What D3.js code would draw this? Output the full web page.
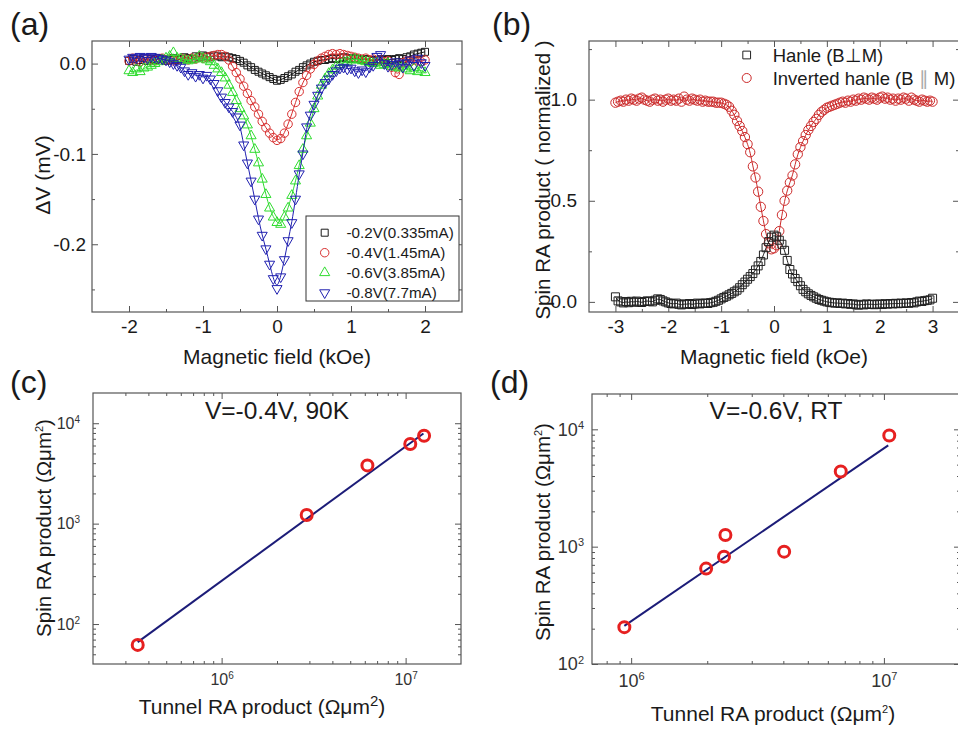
<!DOCTYPE html>
<html><head><meta charset="utf-8">
<script src="https://cdn.jsdelivr.net/npm/d3@7"></script>
<style>
body{margin:0;background:#fff}
svg{display:block;background:#fff}
</style>
</head><body>
<svg id="fig" width="958" height="731"></svg>
<script>
// ---------------- DATA ----------------
// Panel (a): Hanle curves, ΔV (mV) vs magnetic field (kOe)
const fieldA = [-2,-1.95,-1.9,-1.85,-1.8,-1.75,-1.7,-1.65,-1.6,-1.55,
  -1.5,-1.45,-1.4,-1.35,-1.3,-1.25,-1.2,-1.15,-1.1,-1.05,
  -1,-0.95,-0.9,-0.85,-0.8,-0.75,-0.7,-0.65,-0.6,-0.55,
  -0.5,-0.45,-0.4,-0.35,-0.3,-0.25,-0.2,-0.15,-0.1,-0.05,
  0,0.05,0.1,0.15,0.2,0.25,0.3,0.35,0.4,0.45,
  0.5,0.55,0.6,0.65,0.7,0.75,0.8,0.85,0.9,0.95,
  1,1.05,1.1,1.15,1.2,1.25,1.3,1.35,1.4,1.45,
  1.5,1.55,1.6,1.65,1.7,1.75,1.8,1.85,1.9,1.95,
  2];
const dvM02 = [0.003,0.005,0.002,0.004,0.006,0.003,0.005,0.004,0.006,0.005,
  0.003,0.004,0.006,0.004,0.005,0.007,0.006,0.005,0.008,0.007,
  0.009,0.008,0.007,0.009,0.008,0.007,0.008,0.007,0.006,0.005,
  0.003,0.001,-0.002,-0.004,-0.007,-0.009,-0.011,-0.013,-0.015,-0.017,
  -0.019,-0.018,-0.016,-0.014,-0.012,-0.009,-0.007,-0.004,-0.002,0.000,
  0.002,0.003,0.004,0.004,0.005,0.006,0.005,0.006,0.007,0.006,
  0.005,0.006,0.005,0.004,0.005,0.004,0.003,0.004,0.005,0.004,
  0.005,0.004,0.005,0.006,0.005,0.007,0.008,0.010,0.011,0.012,
  0.013];
const dvM04 = [0.003,0.006,0.004,0.002,0.005,0.006,0.004,0.003,0.005,0.006,
  0.004,0.005,0.003,0.004,0.006,0.005,0.004,0.006,0.005,0.007,
  0.006,0.007,0.008,0.009,0.010,0.010,0.008,0.004,-0.003,-0.010,
  -0.017,-0.025,-0.033,-0.041,-0.048,-0.056,-0.064,-0.071,-0.077,-0.082,
  -0.085,-0.083,-0.077,-0.067,-0.056,-0.043,-0.031,-0.021,-0.013,-0.006,
  -0.001,0.003,0.006,0.008,0.010,0.011,0.010,0.011,0.010,0.009,
  0.008,0.007,0.006,0.005,0.006,0.004,0.005,0.003,0.004,0.002,
  0.003,-0.004,-0.010,-0.012,0.001,0.003,0.002,0.004,0.003,0.002,
  0.004];
const dvM06 = [-0.008,-0.010,-0.006,-0.009,-0.005,-0.004,-0.002,0.000,0.002,0.004,
  0.006,0.008,0.012,0.006,0.005,0.004,0.003,0.004,0.005,0.008,
  0.006,0.004,0.002,-0.002,-0.006,-0.010,-0.016,-0.024,-0.032,-0.041,
  -0.050,-0.058,-0.068,-0.080,-0.095,-0.110,-0.128,-0.145,-0.160,-0.170,
  -0.176,-0.178,-0.170,-0.160,-0.146,-0.130,-0.113,-0.095,-0.080,-0.066,
  -0.050,-0.036,-0.024,-0.017,-0.011,-0.007,-0.003,-0.001,0.001,0.002,
  0.004,0.005,0.004,0.003,0.002,0.001,0.000,0.001,-0.002,-0.001,
  0.000,-0.003,-0.004,-0.005,-0.003,-0.006,-0.008,-0.005,-0.009,-0.007,
  -0.010];
const dvM08 = [0.005,0.007,0.006,0.008,0.007,0.006,0.008,0.007,0.006,0.005,
  0.004,0.002,0.000,-0.002,-0.004,-0.008,-0.012,-0.010,-0.014,-0.012,
  -0.016,-0.013,-0.017,-0.022,-0.030,-0.037,-0.043,-0.048,-0.053,-0.059,
  -0.068,-0.090,-0.110,-0.130,-0.150,-0.172,-0.190,-0.205,-0.222,-0.238,
  -0.249,-0.236,-0.217,-0.196,-0.176,-0.150,-0.122,-0.100,-0.070,-0.057,
  -0.045,-0.035,-0.027,-0.021,-0.017,-0.012,-0.008,-0.005,-0.004,-0.006,
  -0.005,-0.008,-0.010,-0.007,-0.009,-0.004,-0.002,0.008,0.010,0.000,
  -0.003,-0.001,0.002,0.000,-0.004,0.001,0.004,-0.002,0.006,0.001,
  -0.002];
const legendA = ["-0.2V(0.335mA)","-0.4V(1.45mA)","-0.6V(3.85mA)","-0.8V(7.7mA)"];
const xTicksA = [-2,-1,0,1,2], xMinorA = [-1.5,-0.5,0.5,1.5];
const yTicksA = [0,-0.1,-0.2], yMinorA = [-0.05,-0.15,-0.25];

// Panel (b): normalized spin RA product vs field
const fieldB = [-3,-2.95,-2.9,-2.85,-2.8,-2.75,-2.7,-2.65,-2.6,-2.55,
  -2.5,-2.45,-2.4,-2.35,-2.3,-2.25,-2.2,-2.15,-2.1,-2.05,
  -2,-1.95,-1.9,-1.85,-1.8,-1.75,-1.7,-1.65,-1.6,-1.55,
  -1.5,-1.45,-1.4,-1.35,-1.3,-1.25,-1.2,-1.15,-1.1,-1.05,
  -1,-0.95,-0.9,-0.85,-0.8,-0.75,-0.7,-0.65,-0.6,-0.55,
  -0.5,-0.45,-0.4,-0.35,-0.3,-0.25,-0.2,-0.15,-0.1,-0.05,
  0,0.05,0.1,0.15,0.2,0.25,0.3,0.35,0.4,0.45,
  0.5,0.55,0.6,0.65,0.7,0.75,0.8,0.85,0.9,0.95,
  1,1.05,1.1,1.15,1.2,1.25,1.3,1.35,1.4,1.45,
  1.5,1.55,1.6,1.65,1.7,1.75,1.8,1.85,1.9,1.95,
  2,2.05,2.1,2.15,2.2,2.25,2.3,2.35,2.4,2.45,
  2.5,2.55,2.6,2.65,2.7,2.75,2.8,2.85,2.9,2.95,
  3];
const hanle = [0.025,0.005,0.000,-0.005,0.002,-0.004,0.003,-0.002,0.004,0.000,
  -0.003,0.002,0.005,0.003,0.000,0.008,0.015,0.012,0.005,0.000,
  -0.005,-0.008,-0.010,-0.006,-0.012,-0.015,-0.010,-0.012,-0.008,-0.013,
  -0.010,-0.006,-0.010,-0.008,-0.005,-0.008,-0.004,-0.002,0.003,0.008,
  0.015,0.022,0.028,0.035,0.042,0.050,0.058,0.070,0.085,0.098,
  0.112,0.125,0.140,0.158,0.178,0.200,0.232,0.268,0.298,0.320,
  0.330,0.322,0.305,0.285,0.255,0.205,0.160,0.138,0.116,0.100,
  0.080,0.062,0.050,0.040,0.032,0.025,0.018,0.012,0.008,0.004,
  0.000,-0.002,-0.004,-0.006,-0.005,-0.008,-0.006,-0.010,-0.008,-0.012,
  -0.010,-0.014,-0.016,-0.012,-0.015,-0.010,-0.013,-0.011,-0.014,-0.012,
  -0.010,-0.013,-0.009,-0.011,-0.008,-0.010,-0.007,-0.009,-0.006,-0.008,
  -0.005,-0.007,-0.003,-0.005,0.000,0.004,0.002,0.006,0.008,0.010,
  0.018];
const invHanle = [0.985,0.990,0.995,0.990,1.000,0.995,1.005,1.000,0.995,1.005,
  1.010,1.000,0.995,0.990,1.000,1.005,0.995,1.000,0.990,1.000,
  1.005,0.995,1.000,0.995,1.005,0.990,1.015,1.000,0.995,1.005,
  1.000,0.995,1.000,0.990,0.995,0.990,0.990,0.990,0.985,0.985,
  0.985,0.980,0.975,0.965,0.945,0.925,0.895,0.870,0.845,0.815,
  0.780,0.740,0.670,0.615,0.545,0.470,0.400,0.335,0.290,0.260,
  0.265,0.280,0.350,0.430,0.500,0.550,0.590,0.625,0.680,0.730,
  0.765,0.795,0.825,0.850,0.870,0.890,0.905,0.925,0.940,0.950,
  0.960,0.965,0.970,0.975,0.980,0.985,0.990,0.985,0.995,0.990,
  1.000,0.995,1.005,1.000,1.010,1.005,1.000,1.010,1.005,1.000,
  1.010,1.015,1.005,1.010,1.000,1.005,0.995,1.005,1.000,1.010,
  1.005,0.995,1.010,1.000,0.995,0.990,1.000,0.995,0.990,0.995,
  0.990];
const xTicksB = [-3,-2,-1,0,1,2,3], xMinorB = [-2.5,-1.5,-0.5,0.5,1.5,2.5];
const yTicksB = [0,0.5,1.0], yMinorB = [0.25,0.75,1.25];

// Panel (c): V=-0.4V, 90K
const tunnelC = [3.5e5, 2.9e6, 6.2e6, 1.06e7, 1.26e7];
const spinC   = [62, 1220, 3800, 6200, 7500];
const fitTunnelC = [3.5e5, 1.25e7];
const fitSpinC   = [66, 7900];
// Panel (d): V=-0.6V, RT
const tunnelD = [9.4e5, 1.98e6, 2.33e6, 2.36e6, 4.03e6, 6.75e6, 1.05e7];
const spinD   = [206, 650, 822, 1257, 907, 4370, 8850];
const fitTunnelD = [9.4e5, 1.04e7];
const fitSpinD   = [211, 7300];
const xTicksC = [1e6, 1e7], xMinorC = [3e5,4e5,5e5,6e5,7e5,8e5,9e5,2e6,3e6,4e6,5e6,6e6,7e6,8e6,9e6];
const yTicksC = [1e2, 1e3, 1e4], yMinorC = [50,60,70,80,90,200,300,400,500,600,700,800,900,2000,3000,4000,5000,6000,7000,8000,9000];
const xTicksD = [1e6, 1e7], xMinorD = [8e5,9e5,2e6,3e6,4e6,5e6,6e6,7e6,8e6,9e6];
const yTicksD = [1e2, 1e3, 1e4], yMinorD = [200,300,400,500,600,700,800,900,2000,3000,4000,5000,6000,7000,8000,9000];

// ---------------- DRAWING ----------------
const FONT = '"Liberation Sans", Arial, Helvetica, sans-serif';
const TXT = "#1a1a1a", AXC = "#555";
const svg = d3.select("#fig");

function axes(x, y, o) {
  const g = svg.append("g");
  const [x0, x1] = x.range(), [y1, y0] = y.range();
  function ax(gen, tr, vals, size, fmt, pad, fs) {
    const s = g.append("g").attr("transform", tr)
      .call(gen.tickValues(vals).tickSize(size).tickSizeOuter(0).tickPadding(pad || 0).tickFormat(fmt || (() => "")));
    s.select(".domain").remove();
    s.selectAll(".tick line").attr("stroke", AXC).attr("stroke-width", 1);
    s.selectAll(".tick text").attr("font-family", FONT).attr("font-size", fs || 19).attr("fill", TXT);
    return s;
  }
  const bx = ax(d3.axisBottom(x), `translate(0,${y1})`, o.xMajor, -6, o.xFmt, o.xPad, o.fs);
  ax(d3.axisBottom(x), `translate(0,${y1})`, o.xMinor, -3);
  ax(d3.axisTop(x), `translate(0,${y0})`, o.xMajor, -6);
  ax(d3.axisTop(x), `translate(0,${y0})`, o.xMinor, -3);
  const ly = ax(d3.axisLeft(y), `translate(${x0},0)`, o.yMajor, -6, o.yFmt, o.yPad, o.fs);
  ax(d3.axisLeft(y), `translate(${x0},0)`, o.yMinor, -3);
  ax(d3.axisRight(y), `translate(${x1},0)`, o.yMajor, -6);
  ax(d3.axisRight(y), `translate(${x1},0)`, o.yMinor, -3);
  g.append("rect").attr("x", x0).attr("y", y0).attr("width", x1 - x0).attr("height", y1 - y0)
    .attr("fill", "none").attr("stroke", AXC).attr("stroke-width", 1.2);
  if (o.log) {
    [bx, ly].forEach(s => s.selectAll(".tick text").each(function(d) {
      const t = d3.select(this); t.text(null).attr("fill", "#333");
      t.append("tspan").text("10");
      t.append("tspan").attr("dy", "-0.6em").attr("font-size", o.supFs || 10).text(Math.round(Math.log10(d)));
    }));
  }
  return g;
}

function text(x, y, str, fs, anchor, rot) {
  const t = svg.append("text").attr("font-family", FONT).attr("font-size", fs).attr("fill", TXT)
    .attr("text-anchor", anchor || "middle");
  if (rot) t.attr("transform", `translate(${x},${y}) rotate(-90)`);
  else t.attr("x", x).attr("y", y);
  if (str !== null) t.text(str);
  return t;
}

function markers(g, xs, ys, x, y, type, size, color, sw) {
  const sym = d3.symbol().type(type === "tridown" ? d3.symbolTriangle : type).size(size);
  g.selectAll(null).data(xs.map((v, i) => [v, ys[i]])).join("path")
    .attr("d", sym)
    .attr("transform", d => `translate(${x(d[0])},${y(d[1])})` + (type === "tridown" ? " rotate(180)" : ""))
    .attr("fill", "none").attr("stroke", color).attr("stroke-width", sw || 1);
}
function fitLine(g, xs, ys, x, y, color, w, curve) {
  g.append("path").datum(xs.map((v, i) => [v, ys[i]]))
    .attr("d", d3.line().x(d => x(d[0])).y(d => y(d[1])).curve(curve || d3.curveLinear))
    .attr("fill", "none").attr("stroke", color).attr("stroke-width", w);
}

// ----- Panel (a)
{
  const x = d3.scaleLinear().domain([-2.5, 2.5]).range([92, 462]);
  const y = d3.scaleLinear().domain([-0.275, 0.025]).range([312, 41]);
  axes(x, y, {xMajor: xTicksA, xMinor: xMinorA, yMajor: yTicksA, yMinor: yMinorA,
    xFmt: d => String(d), yFmt: d => d.toFixed(1), xPad: 8, yPad: 6, fs: 19});
  const g = svg.append("g");
  const series = [
    {v: dvM02, c: "#1a1a1a", t: d3.symbolSquare, s: 49},
    {v: dvM04, c: "#d83030", t: d3.symbolCircle, s: 56},
    {v: dvM06, c: "#2fdc2f", t: d3.symbolTriangle, s: 44},
    {v: dvM08, c: "#2020b0", t: "tridown", s: 44}
  ];
  series.forEach(sr => {
    markers(g, fieldA, sr.v, x, y, sr.t, sr.s, sr.c, 1);
    fitLine(g, fieldA, sr.v, x, y, sr.c, 1, d3.curveBasis);
  });
  // legend
  svg.append("rect").attr("x", 306).attr("y", 216).attr("width", 153).attr("height", 85)
    .attr("fill", "#fff").attr("stroke", "#333").attr("stroke-width", 1);
  const lg = svg.append("g");
  series.forEach((sr, i) => {
    const ly = 232.7 + i * 20;
    const sym = d3.symbol().type(sr.t === "tridown" ? d3.symbolTriangle : sr.t).size(sr.s);
    lg.append("path").attr("d", sym)
      .attr("transform", `translate(324.7,${ly})` + (sr.t === "tridown" ? " rotate(180)" : ""))
      .attr("fill", "none").attr("stroke", sr.c).attr("stroke-width", 1);
    text(346.5, ly + 5.5, legendA[i], 15.2, "start");
  });
  text(10, 35, "(a)", 32, "start");
  text(50, 175, "ΔV (mV)", 21, "middle", true);
  text(277, 364, "Magnetic field (kOe)", 21);
}

// ----- Panel (b)
{
  const x = d3.scaleLinear().domain([-3.5, 3.5]).range([589, 959]);
  const y = d3.scaleLinear().domain([-0.05, 1.29]).range([312, 41]);
  axes(x, y, {xMajor: xTicksB, xMinor: xMinorB, yMajor: yTicksB, yMinor: yMinorB,
    xFmt: d => String(d), yFmt: d => d.toFixed(1), xPad: 8, yPad: 12, fs: 19});
  const g = svg.append("g");
  markers(g, fieldB, invHanle, x, y, d3.symbolCircle, 68, "#cc2a2a", 1);
  fitLine(g, fieldB, invHanle, x, y, "#cc2a2a", 1, d3.curveBasis);
  markers(g, fieldB, hanle, x, y, d3.symbolSquare, 64, "#222", 1);
  fitLine(g, fieldB, hanle, x, y, "#222", 1, d3.curveBasis);
  // legend
  svg.append("path").attr("d", d3.symbol().type(d3.symbolSquare).size(60)).attr("transform", "translate(746.7,55)")
    .attr("fill", "none").attr("stroke", "#222");
  svg.append("path").attr("d", d3.symbol().type(d3.symbolCircle).size(64)).attr("transform", "translate(746.7,78)")
    .attr("fill", "none").attr("stroke", "#cc2a2a");
  text(772.7, 62, "Hanle (B⊥M)", 18.5, "start");
  const t2 = text(772.7, 85, null, 18.5, "start");
  t2.append("tspan").text("Inverted hanle (B ");
  t2.append("tspan").attr("fill", "#aaa").text("∥");
  t2.append("tspan").text(" M)");
  text(492, 35, "(b)", 32, "start");
  text(550, 180, "Spin RA product ( normalized )", 20.5, "middle", true);
  text(774, 364, "Magnetic field (kOe)", 21);
}

function raLabel(x, y, rot, supSize, fs) {
  const t = text(x, y, null, fs, "middle", rot);
  t.append("tspan").text(rot ? "Spin RA product (Ωμm" : "Tunnel RA product (Ωμm");
  t.append("tspan").attr("dy", -8).attr("font-size", supSize).text("2");
  t.append("tspan").attr("dy", 8).text(")");
}

// ----- Panel (c)
{
  const x = d3.scaleLog().domain([2e5, 2e7]).range([93, 461]);
  const y = d3.scaleLog().domain([40, 2e4]).range([664, 393]);
  axes(x, y, {xMajor: xTicksC, xMinor: xMinorC, yMajor: yTicksC, yMinor: yMinorC,
    xFmt: d => d, yFmt: d => d, xPad: 10, yPad: 13, fs: 16, supFs: 10, log: true});
  const g = svg.append("g");
  fitLine(g, fitTunnelC, fitSpinC, x, y, "#1c1c78", 2);
  markers(g, tunnelC, spinC, x, y, d3.symbolCircle, 95, "#e62020", 3);
  text(277, 419, "V=-0.4V, 90K", 24.5);
  text(10, 393, "(c)", 32, "start");
  raLabel(51, 528, true, 11, 20.5);
  raLabel(262, 714, false, 15, 21);
}

// ----- Panel (d)
{
  const x = d3.scaleLog().domain([7e5, 2e7]).range([592, 960]);
  const y = d3.scaleLog().domain([100, 2e4]).range([664, 394]);
  axes(x, y, {xMajor: xTicksD, xMinor: xMinorD, yMajor: yTicksD, yMinor: yMinorD,
    xFmt: d => d, yFmt: d => d, xPad: 10, yPad: 8, fs: 18, supFs: 11, log: true});
  const g = svg.append("g");
  fitLine(g, fitTunnelD, fitSpinD, x, y, "#1c1c78", 2);
  markers(g, tunnelD, spinD, x, y, d3.symbolCircle, 95, "#e62020", 3);
  text(776, 419, "V=-0.6V, RT", 24.5);
  text(490, 393, "(d)", 32, "start");
  raLabel(550, 532, true, 11, 20.5);
  raLabel(773, 721, false, 11, 21);
}
</script>
</body></html>
